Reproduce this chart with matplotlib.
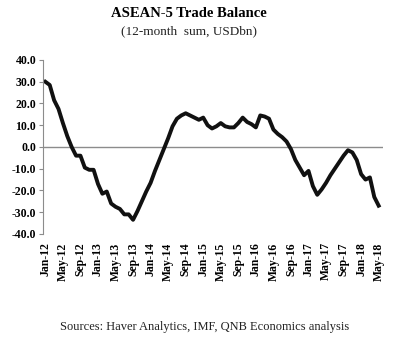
import numpy as np
import pandas as pd
import matplotlib
matplotlib.use('Agg')
import matplotlib.pyplot as plt

# ASEAN-5 trade balance, 12-month sum, USDbn, monthly Jan-12 .. May-18
months = pd.date_range('2012-01-01', '2018-05-01', freq='MS')
balance = [30, 28.5, 21.5, 17.5, 11, 5, 0, -4, -4, -9.5,
           -10.5, -10.5, -17, -21.5, -20.5, -26, -27.5, -28.5, -31, -31,
           -33.5, -29.5, -25, -20.5, -16.5, -11, -6, -1, 4, 9.5,
           13, 14.5, 15.5, 14.5, 13.5, 12.5, 13.5, 10, 8.5, 9.5,
           11, 9.5, 9, 9, 11, 13.5, 11.5, 10.5, 9, 14.5,
           14, 13, 8, 6, 4.5, 2.5, -1, -6, -9.5, -13,
           -11, -18, -22, -19.5, -16.5, -13, -10, -7, -4, -1.5,
           -2.5, -6, -12.5, -15, -14, -23, -27]
yticks = [40, 30, 20, 10, 0, -10, -20, -30, -40]

x = np.arange(len(months))
labels = [d.strftime('%b-%y') for d in months]

serif = ['Liberation Serif', 'DejaVu Serif']
fig = plt.figure(figsize=(4.11, 3.55), dpi=100)
ax = fig.add_axes([0.105, 0.341, 0.827, 0.490])

ax.axhline(0, color='#8c8c8c', lw=1.0, zorder=1)
ax.plot(x, balance, color='#111111', lw=2.8, solid_joinstyle='round', zorder=2)

ax.set_xlim(-0.5, 77)
ax.set_ylim(-40, 40)
ax.set_yticks(yticks)
ax.set_yticklabels([f'{v:.1f}' for v in yticks], fontfamily=serif,
                   fontweight='bold', fontsize=8.5)
ax.set_xticks(x[::4])
ax.set_xticklabels(labels[::4], rotation=90, fontfamily=serif,
                   fontweight='bold', fontsize=8.5)
ax.tick_params(axis='x', length=0, pad=6)
ax.tick_params(axis='y', length=3, color='#8c8c8c', pad=2)
for s in ['top', 'right', 'bottom']:
    ax.spines[s].set_visible(False)
ax.spines['left'].set_color('#8c8c8c')

fig.text(0.46, 0.963, 'ASEAN-5 Trade Balance', ha='center', va='center',
         fontfamily=serif, fontweight='bold', fontsize=10.5)
fig.text(0.46, 0.912, '(12-month  sum, USDbn)', ha='center', va='center',
         fontfamily=serif, fontsize=9.5, color='#222222')
fig.text(0.497, 0.079, 'Sources: Haver Analytics, IMF, QNB Economics analysis',
         ha='center', va='center', fontfamily=serif, fontsize=9, color='#222222')

fig.savefig('out.png', dpi=100)
